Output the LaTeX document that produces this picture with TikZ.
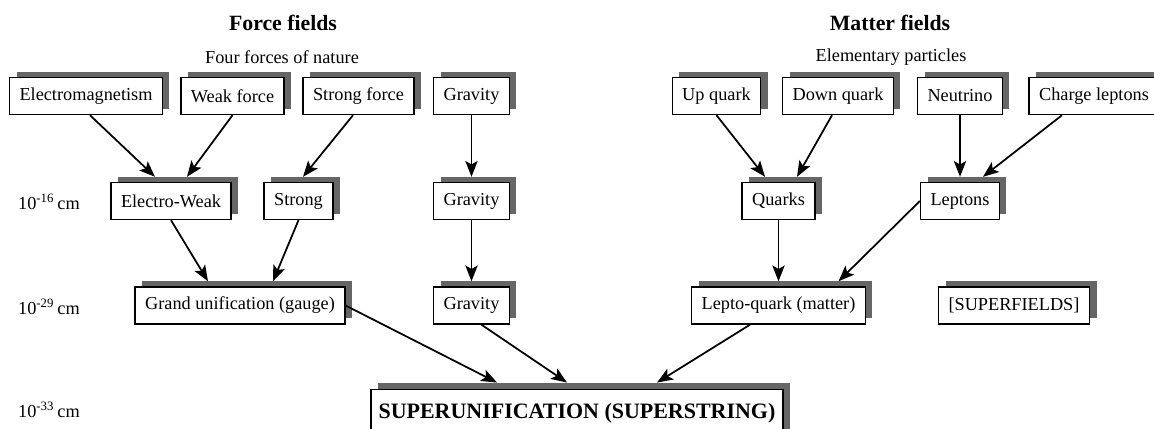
\documentclass[tikz,border=0pt]{standalone}
\usepackage{fontspec}
\setmainfont{Liberation Serif}
\usetikzlibrary{arrows.meta,%
                shadows}
\tikzstyle{field}=[rectangle, draw, line width=0.8pt, fill=white, font=\fontsize{10.4}{12}\selectfont, minimum height=0.74cm, inner xsep=0.2cm, drop shadow={shadow xshift=0.14cm, shadow yshift=0.12cm, fill=black!60, opacity=1}]
\tikzstyle{unified}=[field, font=\fontsize{12.5}{15}\selectfont\bfseries, minimum height=0.95cm, inner xsep=0.15cm]
\tikzstyle{heading}=[font=\fontsize{12.4}{15}\selectfont\bfseries]
\tikzstyle{subheading}=[font=\fontsize{10.4}{12}\selectfont]
\tikzstyle{sizelabel}=[anchor=west, font=\fontsize{10.4}{12}\selectfont]
\tikzstyle{flow}=[-{Stealth[length=9pt,width=7pt,inset=2pt]}, line width=1pt]

\begin{document}
\begin{tikzpicture}
  \useasboundingbox (0,0) rectangle (23.08,-8.56);

  \node[heading] (forcetitle) at (5.66,-0.46) {Force fields};
  \node[subheading] (forcesub) at (5.64,-1.14) {Four forces of nature};
  \node[heading] (mattertitle) at (17.8,-0.46) {Matter fields};
  \node[subheading] (mattersub) at (17.82,-1.14) {Elementary particles};

  \node[sizelabel] (len16) at (0.24,-4.04) {10\textsuperscript{-16}\,cm};
  \node[sizelabel] (len29) at (0.24,-6.14) {10\textsuperscript{-29}\,cm};
  \node[sizelabel] (len33) at (0.24,-8.20) {10\textsuperscript{-33}\,cm};

  \node[field] (em) at (1.72,-1.92) {Electromagnetism};
  \node[field] (wf) at (4.65,-1.92) {Weak force};
  \node[field] (sf) at (7.17,-1.92) {Strong force};
  \node[field] (g1) at (9.43,-1.92) {Gravity};
  \node[field] (uq) at (14.33,-1.92) {Up quark};
  \node[field] (dq) at (16.76,-1.92) {Down quark};
  \node[field] (nu) at (19.20,-1.92) {Neutrino};
  \node[field] (cl) at (21.88,-1.92) {Charge leptons};

  \node[field] (ew) at (3.42,-4.02) {Electro-Weak};
  \node[field] (st) at (5.97,-4.02) {Strong};
  \node[field] (g2) at (9.43,-4.02) {Gravity};
  \node[field] (qk) at (15.57,-4.02) {Quarks};
  \node[field] (lp) at (19.20,-4.02) {Leptons};

  \node[field] (gu) at (4.80,-6.11) {Grand unification (gauge)};
  \node[field] (g3) at (9.43,-6.11) {Gravity};
  \node[field] (lq) at (15.57,-6.11) {Lepto-quark (matter)};
  \node[field] (sfd) at (20.28,-6.11) {[SUPERFIELDS]};

  \node[unified] (su) at (11.54,-8.26) {SUPERUNIFICATION (SUPERSTRING)};

  \draw[flow] ([xshift=.08cm]em.south) -- ([xshift=-.32cm,yshift=.1cm]ew.north);
  \draw[flow] (wf.south) -- ([xshift=.32cm,yshift=.1cm]ew.north);
  \draw[flow] ([xshift=-.11cm]sf.south) -- ([xshift=.09cm,yshift=.1cm]st.north);
  \draw[flow] (g1.south) -- ([yshift=.1cm]g2.north);
  \draw[flow] (uq.south) -- ([xshift=-.27cm,yshift=.1cm]qk.north);
  \draw[flow] ([xshift=-.12cm]dq.south) -- ([xshift=.37cm,yshift=.1cm]qk.north);
  \draw[flow] (nu.south) -- ([yshift=.1cm]lp.north);
  \draw[flow] ([xshift=-.64cm]cl.south) -- ([xshift=.46cm,yshift=.1cm]lp.north);

  \draw[flow] (ew.south) -- ([xshift=-.64cm,yshift=.1cm]gu.north);
  \draw[flow] (st.south) -- ([xshift=.66cm,yshift=.1cm]gu.north);
  \draw[flow] (g2.south) -- ([yshift=.1cm]g3.north);
  \draw[flow] (qk.south) -- ([yshift=.1cm]lq.north);
  \draw[flow] (lp.west) -- ([xshift=1.2cm,yshift=.1cm]lq.north);

  \draw[flow] (gu.east) -- ([xshift=-1.6cm,yshift=.12cm]su.north);
  \draw[flow] ([xshift=.2cm]g3.south) -- ([xshift=-.2cm,yshift=.12cm]su.north);
  \draw[flow] ([xshift=-.57cm]lq.south) -- ([xshift=1.6cm,yshift=.12cm]su.north);
\end{tikzpicture}
\end{document}
